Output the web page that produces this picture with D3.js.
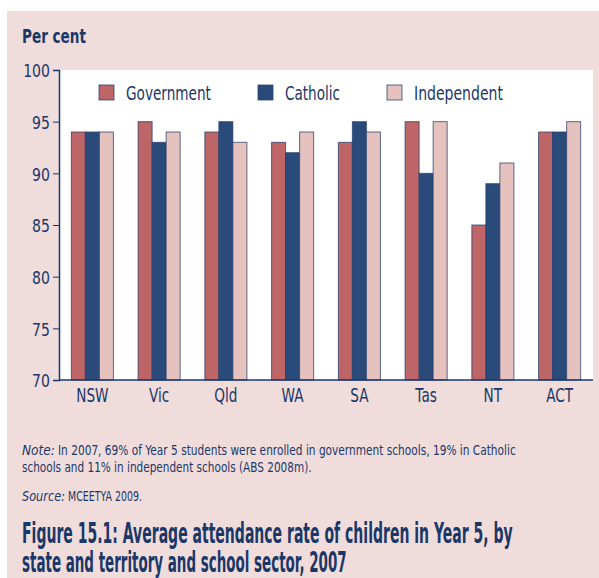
<!DOCTYPE html>
<html>
<head>
<meta charset="utf-8">
<script src="https://cdn.jsdelivr.net/npm/d3@7"></script>
<style>
  html, body { margin: 0; padding: 0; background: #fff; }
  svg { display: block; }
  text { font-family: "DejaVu Sans", sans-serif; fill: #1b3768; }
</style>
</head>
<body>
<div id="chart"></div>
<script>
const states = ['NSW', 'Vic', 'Qld', 'WA', 'SA', 'Tas', 'NT', 'ACT']
const sectors = ['Government', 'Catholic', 'Independent']
const government = [94, 95, 94, 93, 93, 95, 85, 94]
const catholic = [94, 93, 95, 92, 95, 90, 89, 94]
const independent = [94, 94, 93, 94, 94, 95, 91, 95]
const yTicks = [70, 75, 80, 85, 90, 95, 100]

const colours = {
    Government: '#bd6567',
    Catholic: '#2a4b7a',
    Independent: '#e6c2be'
}

const width = 599
const height = 578
const plot = {left: 59, right: 593, top: 70, bottom: 380}

// no condensed face is installed, so narrow the glyphs with a horizontal scale
function narrow(sel, k) {
    sel.each(function() {
        const t = d3.select(this)
        const px = +t.attr('x') || 0
        const py = +t.attr('y') || 0
        t.attr('x', 0).attr('y', 0)
            .attr('transform', `translate(${px},${py}) scale(${k},1)`)
    })
}
function narrowTo(sel, w) {
    sel.each(function() {
        narrow(d3.select(this), w / this.getComputedTextLength())
    })
}
function label(str, px, py, size, w, opts = {}) {
    const t = svg.append('text')
        .attr('x', px).attr('y', py)
        .style('font-size', size + 'px')
        .style('font-weight', opts.bold ? 'bold' : null)
        .style('font-style', opts.italic ? 'italic' : null)
        .text(str)
    narrowTo(t, w)
    return t
}

const rows = states.map((s, i) => ({
    state: s,
    Government: government[i],
    Catholic: catholic[i],
    Independent: independent[i]
}))

const svg = d3.select('#chart')
    .append('svg')
    .attr('width', width)
    .attr('height', height)

// pink panel
svg.append('rect')
    .attr('x', 7).attr('y', 11)
    .attr('width', width - 7).attr('height', height - 11)
    .style('fill', '#f0dddb')

// white plot area
svg.append('rect')
    .attr('x', plot.left).attr('y', plot.top)
    .attr('width', plot.right - plot.left).attr('height', plot.bottom - plot.top)
    .style('fill', '#fff')

const x = d3.scaleBand()
    .domain(states)
    .range([plot.left, plot.right])
    .paddingInner(0.37)
    .paddingOuter(0.185)

const xs = d3.scaleBand()
    .domain(sectors)
    .range([0, x.bandwidth()])

const y = d3.scaleLinear()
    .domain([70, 100])
    .range([plot.bottom, plot.top])

// bars
const groups = svg.selectAll('.group')
    .data(rows)
    .enter()
    .append('g')
    .attr('class', 'group')
    .attr('transform', d => `translate(${x(d.state)},0)`)

groups.selectAll('rect')
    .data(d => sectors.map(k => ({key: k, value: d[k]})))
    .enter()
    .append('rect')
    .attr('x', d => xs(d.key))
    .attr('y', d => y(d.value))
    .attr('width', xs.bandwidth())
    .attr('height', d => plot.bottom - y(d.value))
    .style('fill', d => colours[d.key])
    .style('stroke', '#243f6f')
    .style('stroke-opacity', 0.75)
    .style('stroke-width', 1)

// y axis
const yAxis = svg.append('g')
    .attr('transform', `translate(${plot.left},0)`)
    .call(d3.axisLeft(y).tickValues(yTicks).tickSize(6).tickPadding(3))
yAxis.select('.domain').style('stroke', '#1b3768').style('stroke-width', 1.5)
yAxis.selectAll('.tick line').style('stroke', '#1b3768')
yAxis.selectAll('.tick text')
    .style('font-size', '18.5px')
    .style('fill', '#1b3768')
    .attr('dy', '0.36em')
    .call(narrow, 0.76)

// x axis
const xAxis = svg.append('g')
    .attr('transform', `translate(0,${plot.bottom})`)
    .call(d3.axisBottom(x).tickSize(0).tickPadding(8))
xAxis.select('.domain')
    .attr('d', `M${plot.left},0H${plot.right}`)
    .style('stroke', '#1b3768').style('stroke-width', 1.5)
xAxis.selectAll('.tick text')
    .style('font-size', '19.5px')
    .style('fill', '#1b3768')
    .call(narrow, 0.7)

// legend
const legendX = [99, 258, 387]
const legendW = [85, 55, 89]
const legend = svg.selectAll('.legend')
    .data(sectors)
    .enter()
    .append('g')
    .attr('class', 'legend')
    .attr('transform', (d, i) => `translate(${legendX[i]},85)`)
legend.append('rect')
    .attr('width', 15).attr('height', 15)
    .style('fill', d => colours[d])
    .style('stroke', '#243f6f')
    .style('stroke-opacity', 0.75)
legend.append('text')
    .attr('x', 27).attr('y', 15)
    .style('font-size', '19px')
    .text(d => d)
    .each(function(d, i) { narrowTo(d3.select(this), legendW[i]) })

// y label
label('Per cent', 22, 43, 19.5, 64, {bold: true})

// note and source
label('Note:', 22, 455, 14.5, 33, {italic: true})
label('In 2007, 69% of Year 5 students were enrolled in government schools, 19% in Catholic', 58, 455, 14.5, 458)
label('schools and 11% in independent schools (ABS 2008m).', 22, 472, 14.5, 290)
label('Source:', 22, 501, 14.5, 43, {italic: true})
label('MCEETYA 2009.', 68, 501, 14.5, 74)

// caption
label('Figure 15.1: Average attendance rate of children in Year 5, by', 22, 542.5, 27.5, 491, {bold: true})
label('state and territory and school sector, 2007', 22, 571.5, 27.5, 325, {bold: true})
</script>
</body>
</html>
